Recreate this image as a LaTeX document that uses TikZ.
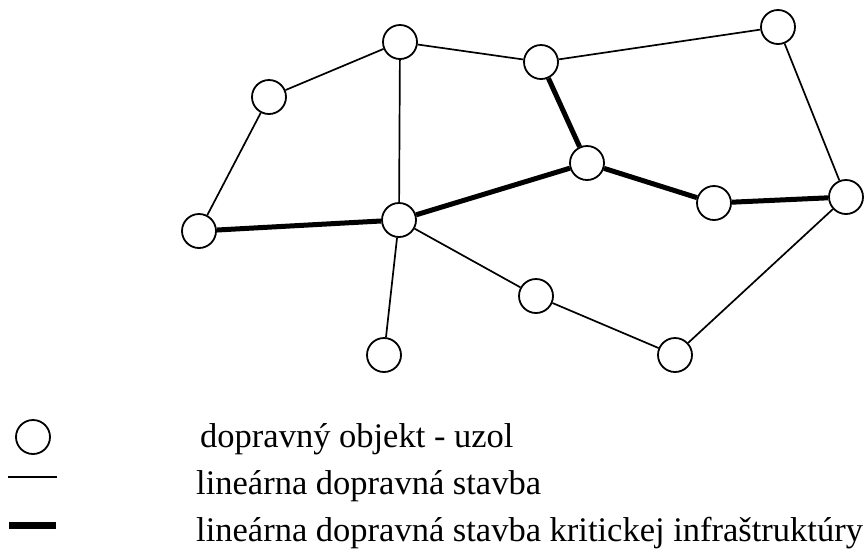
\documentclass[tikz,border=0pt]{standalone}
\usepackage{fontspec}
\setmainfont{Liberation Serif}
\begin{document}
\begin{tikzpicture}[x=1pt,y=-1pt,
  uzol/.style={circle,draw,line width=1.8pt,minimum size=34pt,inner sep=0pt,fill=white},
  thinedge/.style={line width=1.7pt},
  thickedge/.style={line width=5pt},
  legtext/.style={anchor=base west,inner sep=0pt,font=\fontsize{34.5}{40}\selectfont}]
\useasboundingbox (0,0) rectangle (864,550);
\node[uzol] (A) at (400,42) {};
\node[uzol] (B) at (269,97) {};
\node[uzol] (C) at (541,62) {};
\node[uzol] (D) at (778,27) {};
\node[uzol] (E) at (587,163) {};
\node[uzol] (F) at (199,231) {};
\node[uzol] (G) at (399,220) {};
\node[uzol] (H) at (714,203) {};
\node[uzol] (I) at (846,197) {};
\node[uzol] (J) at (536,296) {};
\node[uzol] (K) at (384,355) {};
\node[uzol] (L) at (675,355) {};
\draw[thinedge] (B) -- (A);
\draw[thinedge] (A) -- (C);
\draw[thinedge] (C) -- (D);
\draw[thinedge] (D) -- (I);
\draw[thinedge] (B) -- (F);
\draw[thinedge] (A) -- (G);
\draw[thinedge] (G) -- (J);
\draw[thinedge] (G) -- (K);
\draw[thinedge] (J) -- (L);
\draw[thinedge] (L) -- (I);
\draw[thickedge] (F) -- (G);
\draw[thickedge] (G) -- (E);
\draw[thickedge] (C) -- (E);
\draw[thickedge] (E) -- (H);
\draw[thickedge] (H) -- (I);
% legend
\node[uzol] (legU) at (33,437) {};
\coordinate (t1) at (8,477);
\coordinate (t2) at (57,477);
\coordinate (k1) at (9,525.5);
\coordinate (k2) at (56,525.5);
\draw[line width=2pt] (t1) -- (t2);
\draw[line width=6.5pt] (k1) -- (k2);
\node[legtext] (l1) at (200,447) {dopravný objekt - uzol};
\node[legtext] (l2) at (196,494) {lineárna dopravná stavba};
\node[legtext] (l3) at (196,541) {lineárna dopravná stavba kritickej infraštruktúry};
\end{tikzpicture}
\end{document}
